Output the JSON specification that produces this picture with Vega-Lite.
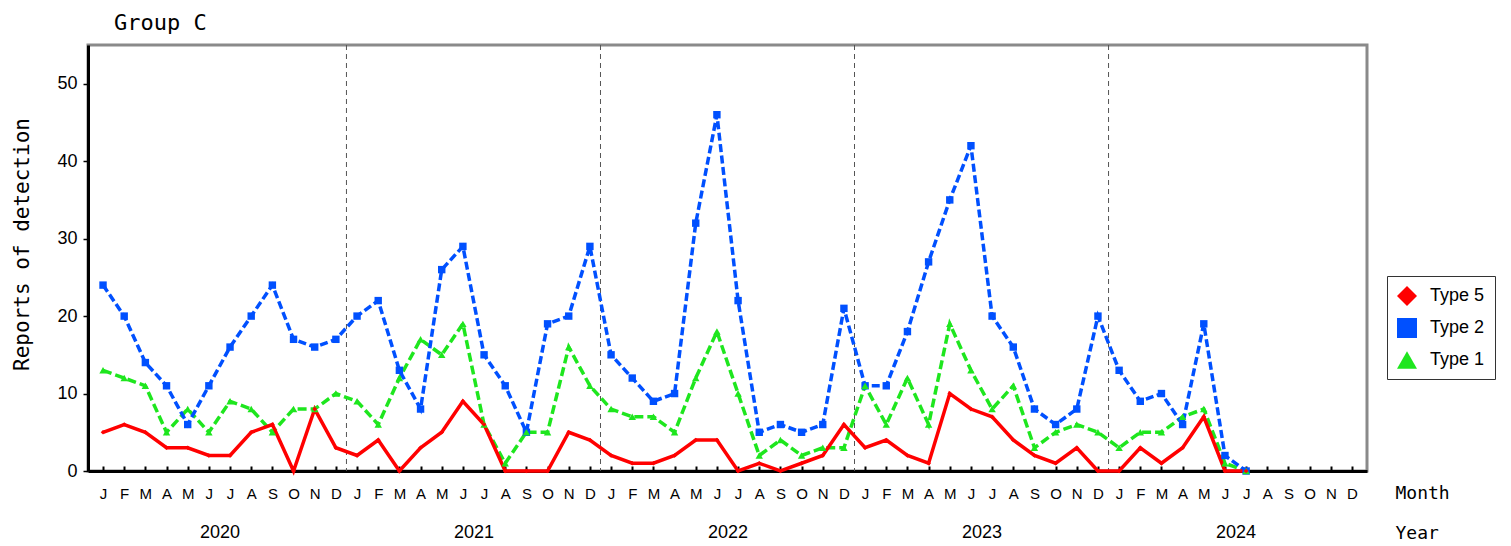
{
  "$schema": "https://vega.github.io/schema/vega-lite/v6.json",
  "width": 1279,
  "height": 426,
  "autosize": "none",
  "padding": {"left": 88, "top": 45, "right": 144, "bottom": 75},
  "background": "white",
  "title": {"text": "Group C", "anchor": "start", "frame": "group", "dx": 26, "offset": 10, "font": "DejaVu Sans Mono", "fontSize": 22, "fontWeight": "normal", "color": "#000"},
  "config": {
    "view": {"stroke": "#8a8a8a", "strokeWidth": 3},
    "axis": {"labelFont": "Liberation Sans", "labelColor": "#000", "domainColor": "#000", "tickColor": "#000", "grid": false},
    "legend": {
      "title": null, "orient": "none", "legendX": 1299, "legendY": 231,
      "symbolSize": 400, "symbolStrokeWidth": 0, "symbolOpacity": 1,
      "labelFont": "Liberation Sans", "labelFontSize": 18, "labelColor": "#000",
      "padding": 10, "rowPadding": 12, "labelOffset": 13, "strokeColor": "#333"
    }
  },
  "datasets": {
    "years": [{"b": 11.5}, {"b": 23.5}, {"b": 35.5}, {"b": 47.5}],
    "counts": [
      {"i": 0, "Type 5": 5, "Type 2": 24, "Type 1": 13},
      {"i": 1, "Type 5": 6, "Type 2": 20, "Type 1": 12},
      {"i": 2, "Type 5": 5, "Type 2": 14, "Type 1": 11},
      {"i": 3, "Type 5": 3, "Type 2": 11, "Type 1": 5},
      {"i": 4, "Type 5": 3, "Type 2": 6, "Type 1": 8},
      {"i": 5, "Type 5": 2, "Type 2": 11, "Type 1": 5},
      {"i": 6, "Type 5": 2, "Type 2": 16, "Type 1": 9},
      {"i": 7, "Type 5": 5, "Type 2": 20, "Type 1": 8},
      {"i": 8, "Type 5": 6, "Type 2": 24, "Type 1": 5},
      {"i": 9, "Type 5": 0, "Type 2": 17, "Type 1": 8},
      {"i": 10, "Type 5": 8, "Type 2": 16, "Type 1": 8},
      {"i": 11, "Type 5": 3, "Type 2": 17, "Type 1": 10},
      {"i": 12, "Type 5": 2, "Type 2": 20, "Type 1": 9},
      {"i": 13, "Type 5": 4, "Type 2": 22, "Type 1": 6},
      {"i": 14, "Type 5": 0, "Type 2": 13, "Type 1": 12},
      {"i": 15, "Type 5": 3, "Type 2": 8, "Type 1": 17},
      {"i": 16, "Type 5": 5, "Type 2": 26, "Type 1": 15},
      {"i": 17, "Type 5": 9, "Type 2": 29, "Type 1": 19},
      {"i": 18, "Type 5": 6, "Type 2": 15, "Type 1": 6},
      {"i": 19, "Type 5": 0, "Type 2": 11, "Type 1": 1},
      {"i": 20, "Type 5": 0, "Type 2": 5, "Type 1": 5},
      {"i": 21, "Type 5": 0, "Type 2": 19, "Type 1": 5},
      {"i": 22, "Type 5": 5, "Type 2": 20, "Type 1": 16},
      {"i": 23, "Type 5": 4, "Type 2": 29, "Type 1": 11},
      {"i": 24, "Type 5": 2, "Type 2": 15, "Type 1": 8},
      {"i": 25, "Type 5": 1, "Type 2": 12, "Type 1": 7},
      {"i": 26, "Type 5": 1, "Type 2": 9, "Type 1": 7},
      {"i": 27, "Type 5": 2, "Type 2": 10, "Type 1": 5},
      {"i": 28, "Type 5": 4, "Type 2": 32, "Type 1": 12},
      {"i": 29, "Type 5": 4, "Type 2": 46, "Type 1": 18},
      {"i": 30, "Type 5": 0, "Type 2": 22, "Type 1": 10},
      {"i": 31, "Type 5": 1, "Type 2": 5, "Type 1": 2},
      {"i": 32, "Type 5": 0, "Type 2": 6, "Type 1": 4},
      {"i": 33, "Type 5": 1, "Type 2": 5, "Type 1": 2},
      {"i": 34, "Type 5": 2, "Type 2": 6, "Type 1": 3},
      {"i": 35, "Type 5": 6, "Type 2": 21, "Type 1": 3},
      {"i": 36, "Type 5": 3, "Type 2": 11, "Type 1": 11},
      {"i": 37, "Type 5": 4, "Type 2": 11, "Type 1": 6},
      {"i": 38, "Type 5": 2, "Type 2": 18, "Type 1": 12},
      {"i": 39, "Type 5": 1, "Type 2": 27, "Type 1": 6},
      {"i": 40, "Type 5": 10, "Type 2": 35, "Type 1": 19},
      {"i": 41, "Type 5": 8, "Type 2": 42, "Type 1": 13},
      {"i": 42, "Type 5": 7, "Type 2": 20, "Type 1": 8},
      {"i": 43, "Type 5": 4, "Type 2": 16, "Type 1": 11},
      {"i": 44, "Type 5": 2, "Type 2": 8, "Type 1": 3},
      {"i": 45, "Type 5": 1, "Type 2": 6, "Type 1": 5},
      {"i": 46, "Type 5": 3, "Type 2": 8, "Type 1": 6},
      {"i": 47, "Type 5": 0, "Type 2": 20, "Type 1": 5},
      {"i": 48, "Type 5": 0, "Type 2": 13, "Type 1": 3},
      {"i": 49, "Type 5": 3, "Type 2": 9, "Type 1": 5},
      {"i": 50, "Type 5": 1, "Type 2": 10, "Type 1": 5},
      {"i": 51, "Type 5": 3, "Type 2": 6, "Type 1": 7},
      {"i": 52, "Type 5": 7, "Type 2": 19, "Type 1": 8},
      {"i": 53, "Type 5": 0, "Type 2": 2, "Type 1": 1},
      {"i": 54, "Type 5": 0, "Type 2": 0, "Type 1": 0}
    ]
  },
  "resolve": {"axis": {"x": "independent", "y": "independent"}},
  "layer": [
    {
      "data": {"name": "years"},
      "mark": {"type": "rule", "color": "#555", "strokeWidth": 1, "strokeDash": [5, 4]},
      "encoding": {
        "x": {
          "field": "b", "type": "quantitative",
          "scale": {"domain": [-0.71, 59.71], "nice": false, "zero": false},
          "axis": {
            "orient": "bottom",
            "values": [0,1,2,3,4,5,6,7,8,9,10,11,12,13,14,15,16,17,18,19,20,21,22,23,24,25,26,27,28,29,30,31,32,33,34,35,36,37,38,39,40,41,42,43,44,45,46,47,48,49,50,51,52,53,54,55,56,57,58,59],
            "labelExpr": "['J','F','M','A','M','J','J','A','S','O','N','D'][datum.value % 12]",
            "tickSize": -5, "tickWidth": 2, "domainWidth": 3,
            "labelPadding": 20, "labelFontSize": 15, "labelAngle": 0, "labelFlush": false, "labelOverlap": false,
            "title": "Month", "titleX": 1307, "titleY": 22, "titleAlign": "left", "titleBaseline": "middle", "titleAngle": 0,
            "titleFont": "DejaVu Sans Mono", "titleFontSize": 18, "titleFontWeight": "normal", "titleColor": "#000"
          }
        }
      }
    },
    {
      "data": {"name": "counts"},
      "transform": [{"fold": ["Type 5", "Type 2", "Type 1"], "as": ["series", "v"]}, {"filter": "datum.series === 'Type 1'"}],
      "mark": {"type": "line", "color": "#1ee61e", "strokeWidth": 3.5, "strokeDash": [9, 4]},
      "encoding": {
        "x": {
          "field": "i", "type": "quantitative",
          "scale": {"domain": [-0.71, 59.71], "nice": false, "zero": false},
          "axis": {
            "orient": "bottom",
            "values": [5.5, 17.5, 29.5, 41.5, 53.5],
            "labelExpr": "'' + (2020 + floor(datum.value / 12))",
            "ticks": false, "domain": false, "labelPadding": 52, "labelFontSize": 18, "labelAngle": 0, "labelFlush": false,
            "title": "Year", "titleX": 1307, "titleY": 62, "titleAlign": "left", "titleBaseline": "middle", "titleAngle": 0,
            "titleFont": "DejaVu Sans Mono", "titleFontSize": 18, "titleFontWeight": "normal", "titleColor": "#000"
          }
        },
        "y": {
          "field": "v", "type": "quantitative",
          "scale": {"domain": [0, 55], "nice": false},
          "axis": {
            "orient": "left",
            "values": [0, 10, 20, 30, 40, 50], "tickSize": 5, "tickWidth": 1.5, "domainWidth": 3,
            "labelPadding": 6, "labelFontSize": 18,
            "title": "Reports of detection", "titleX": -66, "titleY": 199, "titleAlign": "center", "titleBaseline": "middle", "titleAngle": 270,
            "titleFont": "DejaVu Sans Mono", "titleFontSize": 21, "titleFontWeight": "normal", "titleColor": "#000"
          }
        }
      }
    },
    {
      "data": {"name": "counts"},
      "transform": [{"fold": ["Type 5", "Type 2", "Type 1"], "as": ["series", "v"]}, {"filter": "datum.series === 'Type 2'"}],
      "mark": {"type": "line", "color": "#0050ff", "strokeWidth": 3.5, "strokeDash": [8, 3.5]},
      "encoding": {
        "x": {"field": "i", "type": "quantitative", "scale": {"domain": [-0.71, 59.71], "nice": false, "zero": false}, "axis": null},
        "y": {"field": "v", "type": "quantitative", "scale": {"domain": [0, 55], "nice": false}, "axis": null}
      }
    },
    {
      "data": {"name": "counts"},
      "transform": [{"fold": ["Type 5", "Type 2", "Type 1"], "as": ["series", "v"]}, {"filter": "datum.series === 'Type 5'"}],
      "mark": {"type": "line", "color": "#ff0000", "strokeWidth": 3.5},
      "encoding": {
        "x": {"field": "i", "type": "quantitative", "scale": {"domain": [-0.71, 59.71], "nice": false, "zero": false}, "axis": null},
        "y": {"field": "v", "type": "quantitative", "scale": {"domain": [0, 55], "nice": false}, "axis": null}
      }
    },
    {
      "data": {"name": "counts"},
      "transform": [{"fold": ["Type 5", "Type 2", "Type 1"], "as": ["series", "v"]}, {"filter": "datum.series !== 'Type 5'"}],
      "mark": {"type": "point", "filled": true, "opacity": 1, "size": 55},
      "encoding": {
        "x": {"field": "i", "type": "quantitative", "scale": {"domain": [-0.71, 59.71], "nice": false, "zero": false}, "axis": null},
        "y": {"field": "v", "type": "quantitative", "scale": {"domain": [0, 55], "nice": false}, "axis": null},
        "color": {
          "field": "series", "type": "nominal",
          "scale": {"domain": ["Type 5", "Type 2", "Type 1"], "range": ["#ff0000", "#0050ff", "#1ee61e"]}
        },
        "shape": {
          "field": "series", "type": "nominal",
          "scale": {"domain": ["Type 5", "Type 2", "Type 1"], "range": ["diamond", "square", "triangle-up"]}
        }
      }
    },
    {
      "data": {"name": "counts"},
      "transform": [{"fold": ["Type 5", "Type 2", "Type 1"], "as": ["series", "v"]}, {"filter": "datum.series === 'Type 5'"}],
      "mark": {"type": "point", "filled": true, "opacity": 1, "size": 22},
      "encoding": {
        "x": {"field": "i", "type": "quantitative", "scale": {"domain": [-0.71, 59.71], "nice": false, "zero": false}, "axis": null},
        "y": {"field": "v", "type": "quantitative", "scale": {"domain": [0, 55], "nice": false}, "axis": null},
        "color": {
          "field": "series", "type": "nominal",
          "scale": {"domain": ["Type 5", "Type 2", "Type 1"], "range": ["#ff0000", "#0050ff", "#1ee61e"]}
        },
        "shape": {
          "field": "series", "type": "nominal",
          "scale": {"domain": ["Type 5", "Type 2", "Type 1"], "range": ["diamond", "square", "triangle-up"]}
        }
      }
    }
  ]
}
